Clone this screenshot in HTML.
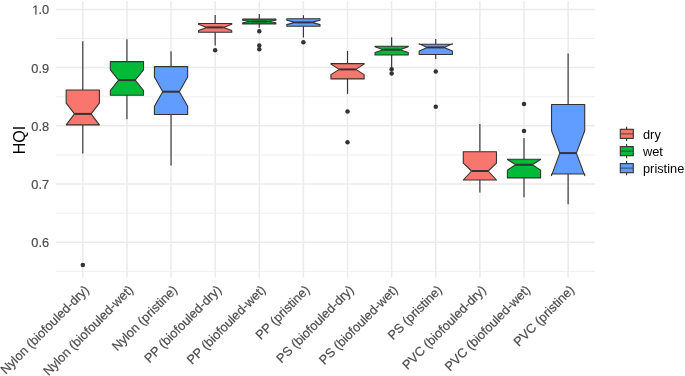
<!DOCTYPE html><html><head><meta charset="utf-8"><style>html,body{margin:0;padding:0;background:#fff;}svg{display:block;will-change:transform;}text{font-family:"Liberation Sans",sans-serif;}</style></head><body>
<svg width="685" height="376" viewBox="0 0 685 376">
<rect width="685" height="376" fill="#fff"/>
<line x1="56.0" x2="595.0" y1="271.39" y2="271.39" stroke="#EBEBEB" stroke-width="0.8"/>
<line x1="56.0" x2="595.0" y1="213.17" y2="213.17" stroke="#EBEBEB" stroke-width="0.8"/>
<line x1="56.0" x2="595.0" y1="154.95" y2="154.95" stroke="#EBEBEB" stroke-width="0.8"/>
<line x1="56.0" x2="595.0" y1="96.73" y2="96.73" stroke="#EBEBEB" stroke-width="0.8"/>
<line x1="56.0" x2="595.0" y1="38.51" y2="38.51" stroke="#EBEBEB" stroke-width="0.8"/>
<line x1="56.0" x2="595.0" y1="242.28" y2="242.28" stroke="#EBEBEB" stroke-width="1.5"/>
<line x1="56.0" x2="595.0" y1="184.06" y2="184.06" stroke="#EBEBEB" stroke-width="1.5"/>
<line x1="56.0" x2="595.0" y1="125.84" y2="125.84" stroke="#EBEBEB" stroke-width="1.5"/>
<line x1="56.0" x2="595.0" y1="67.62" y2="67.62" stroke="#EBEBEB" stroke-width="1.5"/>
<line x1="56.0" x2="595.0" y1="9.40" y2="9.40" stroke="#EBEBEB" stroke-width="1.5"/>
<line x1="82.80" x2="82.80" y1="1.0" y2="277.7" stroke="#EBEBEB" stroke-width="1.5"/>
<line x1="126.92" x2="126.92" y1="1.0" y2="277.7" stroke="#EBEBEB" stroke-width="1.5"/>
<line x1="171.04" x2="171.04" y1="1.0" y2="277.7" stroke="#EBEBEB" stroke-width="1.5"/>
<line x1="215.16" x2="215.16" y1="1.0" y2="277.7" stroke="#EBEBEB" stroke-width="1.5"/>
<line x1="259.28" x2="259.28" y1="1.0" y2="277.7" stroke="#EBEBEB" stroke-width="1.5"/>
<line x1="303.40" x2="303.40" y1="1.0" y2="277.7" stroke="#EBEBEB" stroke-width="1.5"/>
<line x1="347.52" x2="347.52" y1="1.0" y2="277.7" stroke="#EBEBEB" stroke-width="1.5"/>
<line x1="391.64" x2="391.64" y1="1.0" y2="277.7" stroke="#EBEBEB" stroke-width="1.5"/>
<line x1="435.76" x2="435.76" y1="1.0" y2="277.7" stroke="#EBEBEB" stroke-width="1.5"/>
<line x1="479.88" x2="479.88" y1="1.0" y2="277.7" stroke="#EBEBEB" stroke-width="1.5"/>
<line x1="524.00" x2="524.00" y1="1.0" y2="277.7" stroke="#EBEBEB" stroke-width="1.5"/>
<line x1="568.12" x2="568.12" y1="1.0" y2="277.7" stroke="#EBEBEB" stroke-width="1.5"/>
<line x1="82.80" x2="82.80" y1="41.2" y2="90.0" stroke="#333" stroke-width="1.15"/>
<line x1="82.80" x2="82.80" y1="124.9" y2="153.5" stroke="#333" stroke-width="1.15"/>
<path d="M66.20,90.00 L66.20,103.20 L74.50,113.90 L66.20,124.90 L66.20,124.90 L99.40,124.90 L99.40,124.90 L91.10,113.90 L99.40,103.20 L99.40,90.00 Z" fill="#F8766D" stroke="#333" stroke-width="1.1" stroke-linejoin="round"/>
<line x1="74.50" x2="91.10" y1="113.9" y2="113.9" stroke="#333" stroke-width="2.0"/>
<circle cx="82.80" cy="265.1" r="2.25" fill="#333"/>
<line x1="126.92" x2="126.92" y1="39.3" y2="61.6" stroke="#333" stroke-width="1.15"/>
<line x1="126.92" x2="126.92" y1="95.2" y2="119.2" stroke="#333" stroke-width="1.15"/>
<path d="M110.32,61.60 L110.32,69.80 L118.62,80.10 L110.32,90.50 L110.32,95.20 L143.52,95.20 L143.52,90.50 L135.22,80.10 L143.52,69.80 L143.52,61.60 Z" fill="#00BA38" stroke="#333" stroke-width="1.1" stroke-linejoin="round"/>
<line x1="118.62" x2="135.22" y1="80.1" y2="80.1" stroke="#333" stroke-width="2.0"/>
<line x1="171.04" x2="171.04" y1="51.3" y2="66.6" stroke="#333" stroke-width="1.15"/>
<line x1="171.04" x2="171.04" y1="114.5" y2="165.6" stroke="#333" stroke-width="1.15"/>
<path d="M154.44,66.60 L154.44,77.00 L162.74,91.70 L154.44,106.30 L154.44,114.50 L187.64,114.50 L187.64,106.30 L179.34,91.70 L187.64,77.00 L187.64,66.60 Z" fill="#619CFF" stroke="#333" stroke-width="1.1" stroke-linejoin="round"/>
<line x1="162.74" x2="179.34" y1="91.7" y2="91.7" stroke="#333" stroke-width="2.0"/>
<line x1="215.16" x2="215.16" y1="15.0" y2="23.5" stroke="#333" stroke-width="1.15"/>
<line x1="215.16" x2="215.16" y1="32.2" y2="45.6" stroke="#333" stroke-width="1.15"/>
<path d="M198.56,23.50 L198.56,24.20 L206.86,27.40 L198.56,30.60 L198.56,32.20 L231.76,32.20 L231.76,30.60 L223.46,27.40 L231.76,24.20 L231.76,23.50 Z" fill="#F8766D" stroke="#333" stroke-width="1.1" stroke-linejoin="round"/>
<line x1="206.86" x2="223.46" y1="27.4" y2="27.4" stroke="#333" stroke-width="2.0"/>
<circle cx="215.16" cy="50.2" r="2.25" fill="#333"/>
<line x1="259.28" x2="259.28" y1="14.1" y2="19.1" stroke="#333" stroke-width="1.15"/>
<line x1="259.28" x2="259.28" y1="23.9" y2="27.7" stroke="#333" stroke-width="1.15"/>
<path d="M242.68,19.10 L242.68,20.30 L250.98,21.50 L242.68,22.70 L242.68,23.90 L275.88,23.90 L275.88,22.70 L267.58,21.50 L275.88,20.30 L275.88,19.10 Z" fill="#00BA38" stroke="#333" stroke-width="1.1" stroke-linejoin="round"/>
<line x1="250.98" x2="267.58" y1="21.5" y2="21.5" stroke="#333" stroke-width="2.0"/>
<circle cx="259.28" cy="31.2" r="2.25" fill="#333"/>
<circle cx="259.28" cy="45.6" r="2.25" fill="#333"/>
<circle cx="259.28" cy="49.3" r="2.25" fill="#333"/>
<line x1="303.40" x2="303.40" y1="15.3" y2="18.7" stroke="#333" stroke-width="1.15"/>
<line x1="303.40" x2="303.40" y1="26.3" y2="37.6" stroke="#333" stroke-width="1.15"/>
<path d="M286.80,18.70 L286.80,20.20 L295.10,22.40 L286.80,24.60 L286.80,26.30 L320.00,26.30 L320.00,24.60 L311.70,22.40 L320.00,20.20 L320.00,18.70 Z" fill="#619CFF" stroke="#333" stroke-width="1.1" stroke-linejoin="round"/>
<line x1="295.10" x2="311.70" y1="22.4" y2="22.4" stroke="#333" stroke-width="2.0"/>
<circle cx="303.40" cy="42.2" r="2.25" fill="#333"/>
<line x1="347.52" x2="347.52" y1="50.9" y2="63.6" stroke="#333" stroke-width="1.15"/>
<line x1="347.52" x2="347.52" y1="78.9" y2="93.9" stroke="#333" stroke-width="1.15"/>
<path d="M330.92,63.60 L330.92,64.10 L339.22,69.40 L330.92,74.60 L330.92,78.90 L364.12,78.90 L364.12,74.60 L355.82,69.40 L364.12,64.10 L364.12,63.60 Z" fill="#F8766D" stroke="#333" stroke-width="1.1" stroke-linejoin="round"/>
<line x1="339.22" x2="355.82" y1="69.4" y2="69.4" stroke="#333" stroke-width="2.0"/>
<circle cx="347.52" cy="111.5" r="2.25" fill="#333"/>
<circle cx="347.52" cy="142.3" r="2.25" fill="#333"/>
<line x1="391.64" x2="391.64" y1="37.3" y2="46.3" stroke="#333" stroke-width="1.15"/>
<line x1="391.64" x2="391.64" y1="55.0" y2="67.5" stroke="#333" stroke-width="1.15"/>
<path d="M375.04,46.30 L375.04,46.80 L383.34,49.70 L375.04,52.60 L375.04,55.00 L408.24,55.00 L408.24,52.60 L399.94,49.70 L408.24,46.80 L408.24,46.30 Z" fill="#00BA38" stroke="#333" stroke-width="1.1" stroke-linejoin="round"/>
<line x1="383.34" x2="399.94" y1="49.7" y2="49.7" stroke="#333" stroke-width="2.0"/>
<circle cx="391.64" cy="69.2" r="2.25" fill="#333"/>
<circle cx="391.64" cy="73.6" r="2.25" fill="#333"/>
<line x1="435.76" x2="435.76" y1="39.0" y2="44.25" stroke="#333" stroke-width="1.15"/>
<line x1="435.76" x2="435.76" y1="54.5" y2="59.1" stroke="#333" stroke-width="1.15"/>
<path d="M419.16,44.25 L419.16,43.70 L427.46,47.40 L419.16,51.00 L419.16,54.50 L452.36,54.50 L452.36,51.00 L444.06,47.40 L452.36,43.70 L452.36,44.25 Z" fill="#619CFF" stroke="#333" stroke-width="1.1" stroke-linejoin="round"/>
<line x1="427.46" x2="444.06" y1="47.4" y2="47.4" stroke="#333" stroke-width="2.0"/>
<circle cx="435.76" cy="71.5" r="2.25" fill="#333"/>
<circle cx="435.76" cy="106.8" r="2.25" fill="#333"/>
<line x1="479.88" x2="479.88" y1="124.0" y2="151.8" stroke="#333" stroke-width="1.15"/>
<line x1="479.88" x2="479.88" y1="180.0" y2="192.6" stroke="#333" stroke-width="1.15"/>
<path d="M463.28,151.80 L463.28,163.20 L471.58,171.00 L463.28,180.00 L463.28,180.00 L496.48,180.00 L496.48,180.00 L488.18,171.00 L496.48,163.20 L496.48,151.80 Z" fill="#F8766D" stroke="#333" stroke-width="1.1" stroke-linejoin="round"/>
<line x1="471.58" x2="488.18" y1="171.0" y2="171.0" stroke="#333" stroke-width="2.0"/>
<line x1="524.00" x2="524.00" y1="138.1" y2="159.3" stroke="#333" stroke-width="1.15"/>
<line x1="524.00" x2="524.00" y1="177.9" y2="197.2" stroke="#333" stroke-width="1.15"/>
<path d="M507.40,159.30 L507.40,159.50 L515.70,164.80 L507.40,170.10 L507.40,177.90 L540.60,177.90 L540.60,170.10 L532.30,164.80 L540.60,159.50 L540.60,159.30 Z" fill="#00BA38" stroke="#333" stroke-width="1.1" stroke-linejoin="round"/>
<line x1="515.70" x2="532.30" y1="164.8" y2="164.8" stroke="#333" stroke-width="2.0"/>
<circle cx="524.00" cy="103.9" r="2.25" fill="#333"/>
<circle cx="524.00" cy="131.0" r="2.25" fill="#333"/>
<line x1="568.12" x2="568.12" y1="53.4" y2="104.5" stroke="#333" stroke-width="1.15"/>
<line x1="568.12" x2="568.12" y1="174.0" y2="204.2" stroke="#333" stroke-width="1.15"/>
<path d="M551.52,104.50 L551.52,130.80 L559.82,153.10 L551.52,175.60 L551.52,174.00 L584.72,174.00 L584.72,175.60 L576.42,153.10 L584.72,130.80 L584.72,104.50 Z" fill="#619CFF" stroke="#333" stroke-width="1.1" stroke-linejoin="round"/>
<line x1="559.82" x2="576.42" y1="153.1" y2="153.1" stroke="#333" stroke-width="2.0"/>
<text x="49.1" y="14.40" font-size="12.8" fill="#4D4D4D" stroke="#4D4D4D" stroke-width="0.2" text-anchor="end">.0</text>
<path d="M35.327,14.400 L35.327,6.669 L33.339,8.088 L33.339,7.025 L35.421,5.594 L36.458,5.594 L36.458,14.400 Z" fill="#4D4D4D" stroke="#4D4D4D" stroke-width="0.2"/>
<text x="49.1" y="72.62" font-size="12.8" fill="#4D4D4D" stroke="#4D4D4D" stroke-width="0.2" text-anchor="end">0.9</text>
<text x="49.1" y="130.84" font-size="12.8" fill="#4D4D4D" stroke="#4D4D4D" stroke-width="0.2" text-anchor="end">0.8</text>
<text x="49.1" y="189.06" font-size="12.8" fill="#4D4D4D" stroke="#4D4D4D" stroke-width="0.2" text-anchor="end">0.7</text>
<text x="49.1" y="247.28" font-size="12.8" fill="#4D4D4D" stroke="#4D4D4D" stroke-width="0.2" text-anchor="end">0.6</text>
<text transform="translate(24.8,140.0) rotate(-90)" font-size="16" fill="#000" text-anchor="middle">HQI</text>
<text transform="translate(89.80,290.7) rotate(-45)" font-size="12.8" fill="#4D4D4D" stroke="#4D4D4D" stroke-width="0.2" text-anchor="end">Nylon (biofouled-dry)</text>
<text transform="translate(133.92,290.7) rotate(-45)" font-size="12.8" fill="#4D4D4D" stroke="#4D4D4D" stroke-width="0.2" text-anchor="end">Nylon (biofouled-wet)</text>
<text transform="translate(178.04,290.7) rotate(-45)" font-size="12.8" fill="#4D4D4D" stroke="#4D4D4D" stroke-width="0.2" text-anchor="end">Nylon (pristine)</text>
<text transform="translate(222.16,290.7) rotate(-45)" font-size="12.8" fill="#4D4D4D" stroke="#4D4D4D" stroke-width="0.2" text-anchor="end">PP (biofouled-dry)</text>
<text transform="translate(266.28,290.7) rotate(-45)" font-size="12.8" fill="#4D4D4D" stroke="#4D4D4D" stroke-width="0.2" text-anchor="end">PP (biofouled-wet)</text>
<text transform="translate(310.40,290.7) rotate(-45)" font-size="12.8" fill="#4D4D4D" stroke="#4D4D4D" stroke-width="0.2" text-anchor="end">PP (pristine)</text>
<text transform="translate(354.52,290.7) rotate(-45)" font-size="12.8" fill="#4D4D4D" stroke="#4D4D4D" stroke-width="0.2" text-anchor="end">PS (biofouled-dry)</text>
<text transform="translate(398.64,290.7) rotate(-45)" font-size="12.8" fill="#4D4D4D" stroke="#4D4D4D" stroke-width="0.2" text-anchor="end">PS (biofouled-wet)</text>
<text transform="translate(442.76,290.7) rotate(-45)" font-size="12.8" fill="#4D4D4D" stroke="#4D4D4D" stroke-width="0.2" text-anchor="end">PS (pristine)</text>
<text transform="translate(486.88,290.7) rotate(-45)" font-size="12.8" fill="#4D4D4D" stroke="#4D4D4D" stroke-width="0.2" text-anchor="end">PVC (biofouled-dry)</text>
<text transform="translate(531.00,290.7) rotate(-45)" font-size="12.8" fill="#4D4D4D" stroke="#4D4D4D" stroke-width="0.2" text-anchor="end">PVC (biofouled-wet)</text>
<text transform="translate(575.12,290.7) rotate(-45)" font-size="12.8" fill="#4D4D4D" stroke="#4D4D4D" stroke-width="0.2" text-anchor="end">PVC (pristine)</text>
<line x1="626.6" x2="626.6" y1="126.80000000000001" y2="140.9" stroke="#333" stroke-width="1.1"/>
<rect x="620.3" y="129.3" width="13.0" height="9.1" fill="#F8766D" stroke="#333" stroke-width="1.1"/>
<line x1="620.3" x2="633.3" y1="133.85000000000002" y2="133.85000000000002" stroke="#333" stroke-opacity="0.6" stroke-width="1.4"/>
<text x="643.0" y="138.60000000000002" font-size="12.8" fill="#000">dry</text>
<line x1="626.6" x2="626.6" y1="144.1" y2="158.2" stroke="#333" stroke-width="1.1"/>
<rect x="620.3" y="146.6" width="13.0" height="9.1" fill="#00BA38" stroke="#333" stroke-width="1.1"/>
<line x1="620.3" x2="633.3" y1="151.15" y2="151.15" stroke="#333" stroke-opacity="0.6" stroke-width="1.4"/>
<text x="643.0" y="155.9" font-size="12.8" fill="#000">wet</text>
<line x1="626.6" x2="626.6" y1="161.1" y2="175.2" stroke="#333" stroke-width="1.1"/>
<rect x="620.3" y="163.6" width="13.0" height="9.1" fill="#619CFF" stroke="#333" stroke-width="1.1"/>
<line x1="620.3" x2="633.3" y1="168.15" y2="168.15" stroke="#333" stroke-opacity="0.6" stroke-width="1.4"/>
<text x="643.0" y="172.9" font-size="12.8" fill="#000">pristine</text>
</svg></body></html>
